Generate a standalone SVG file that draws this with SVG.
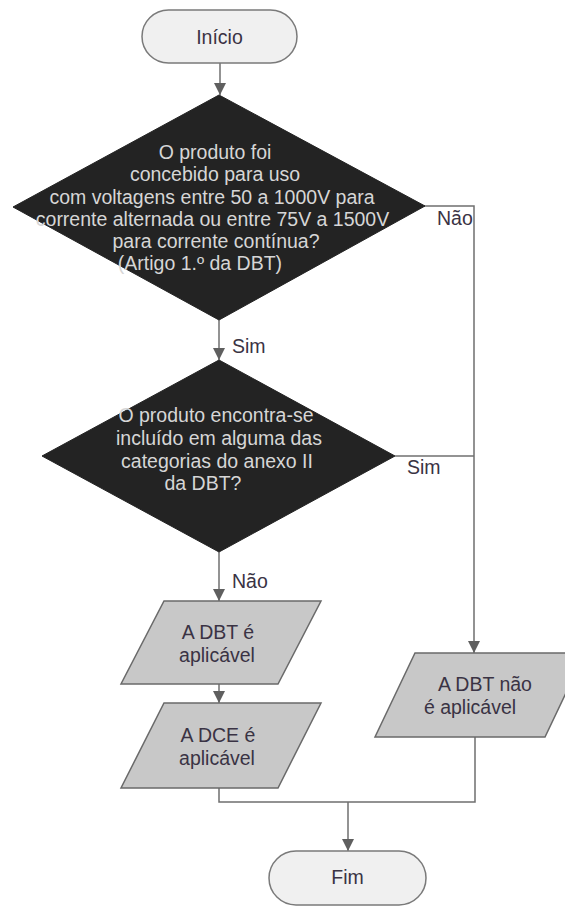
<svg xmlns="http://www.w3.org/2000/svg" width="565" height="906" viewBox="0 0 565 906">
<defs>
<marker id="arr" markerUnits="userSpaceOnUse" markerWidth="12" markerHeight="12" refX="12" refY="6" orient="auto">
<path d="M0,0 L12,6 L0,12 Z" fill="#5f5f5f"/>
</marker>
<style>
.term{fill:#f0f0f0;stroke:#7a7a7a;stroke-width:1.5}
.dec{fill:#232323;stroke:#232323;stroke-width:1}
.io{fill:#c8c8c8;stroke:#6a6a6a;stroke-width:1.5}
.conn{fill:none;stroke:#6f6f6f;stroke-width:1.5}
text{font-family:"Liberation Sans",Arial,sans-serif;font-size:19.5px}
.dt{fill:#d6d6d6;text-anchor:middle}
.nt{fill:#3a3344;text-anchor:middle}
.lbl{fill:#3a3344}
</style>
</defs>
<rect width="565" height="906" fill="#ffffff"/>
<g id="connectors">
<path class="conn" d="M220,63 V95" marker-end="url(#arr)"/>
<path class="conn" d="M219,320 V360" marker-end="url(#arr)"/>
<path class="conn" d="M424,206 H474 V653" marker-end="url(#arr)"/>
<path class="conn" d="M395,456 H474"/>
<path class="conn" d="M219,552 V601" marker-end="url(#arr)"/>
<path class="conn" d="M219,684 V703" marker-end="url(#arr)"/>
<path class="conn" d="M219,788 V802 H475 V737"/>
<path class="conn" d="M348,802 V851" marker-end="url(#arr)"/>
<text class="lbl" x="437" y="225">Não</text>
<text class="lbl" x="232" y="353">Sim</text>
<text class="lbl" x="407" y="474">Sim</text>
<text class="lbl" x="232" y="588">Não</text>
</g>
<g id="inicio">
<rect class="term" x="142" y="10" width="155" height="53" rx="26.5"/>
<text class="nt" x="219.5" y="44">Início</text>
</g>
<g id="decisao1">
<polygon class="dec" points="219,95 425,206 219,320 13,207"/>
<text class="dt" x="215" y="159">O produto foi</text>
<text class="dt" x="215" y="181">concebido para uso</text>
<text class="dt" x="212" y="203.5">com voltagens entre 50 a 1000V para</text>
<text class="dt" x="212.5" y="225.5">corrente alternada ou entre 75V a 1500V</text>
<text class="dt" x="216" y="248">para corrente contínua?</text>
<text class="dt" x="200" y="270">(Artigo 1.º da DBT)</text>
</g>
<g id="decisao2">
<polygon class="dec" points="219,360 395,456 219,552 42,456"/>
<text class="dt" x="216" y="422">O produto encontra-se</text>
<text class="dt" x="219" y="445">incluído em alguma das</text>
<text class="dt" x="217" y="468">categorias do anexo II</text>
<text class="dt" x="203" y="490">da DBT?</text>
</g>
<g id="dbt-aplicavel">
<polygon class="io" points="164,601 321,601 278,684 121,684"/>
<text class="nt" x="218" y="639">A DBT é</text>
<text class="nt" x="217" y="662">aplicável</text>
</g>
<g id="dce-aplicavel">
<polygon class="io" points="164,703 321,703 278,788 121,788"/>
<text class="nt" x="218" y="742">A DCE é</text>
<text class="nt" x="217" y="765">aplicável</text>
</g>
<g id="dbt-nao-aplicavel">
<polygon class="io" points="415,653 585,653 545,737 375,737"/>
<text class="nt" x="485" y="691">A DBT não</text>
<text class="nt" x="470" y="714">é aplicável</text>
</g>
<g id="fim">
<rect class="term" x="269" y="851" width="157" height="54" rx="27"/>
<text class="nt" x="347.5" y="884">Fim</text>
</g>
</svg>
